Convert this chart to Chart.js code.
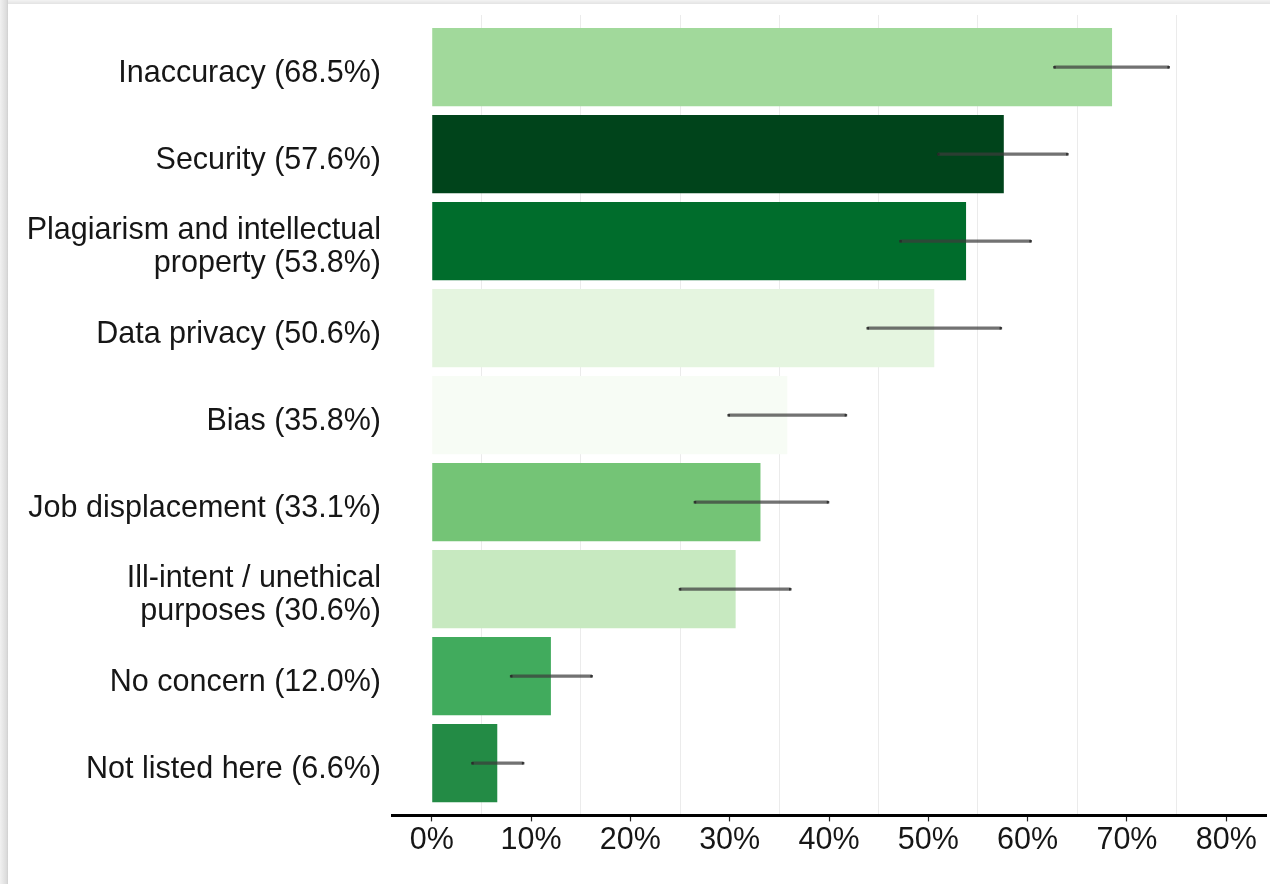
<!DOCTYPE html>
<html>
<head>
<meta charset="utf-8">
<script src="https://cdn.jsdelivr.net/npm/chart.js@4.4.1/dist/chart.umd.min.js"></script>
<style>
  html, body { margin: 0; padding: 0; background: #ffffff; overflow: hidden; }
  #wrap { position: relative; width: 1270px; height: 884px; }
  #wrap canvas { position: absolute; left: 0; top: 0; }
  #edgeL { position: absolute; left: 0; top: 0; width: 8px; height: 884px;
           background: linear-gradient(to right, #f1f1f1, #dcdcdc 80%, #cfcfcf); }
  #edgeT { position: absolute; left: 0; top: 0; width: 1270px; height: 4px;
           background: linear-gradient(to bottom, #f3f3f3, #e3e3e3); }
</style>
</head>
<body>
<div id="wrap">
  <canvas id="chart" width="1270" height="884"></canvas>
  <div id="edgeT"></div>
  <div id="edgeL"></div>
</div>
<script>
// ---- data ----
const categories = [
  'Inaccuracy (68.5%)',
  'Security (57.6%)',
  ['Plagiarism and intellectual', 'property (53.8%)'],
  'Data privacy (50.6%)',
  'Bias (35.8%)',
  'Job displacement (33.1%)',
  ['Ill-intent / unethical', 'purposes (30.6%)'],
  'No concern (12.0%)',
  'Not listed here (6.6%)'
];
const values   = [68.5, 57.6, 53.8, 50.6, 35.8, 33.1, 30.6, 12.0, 6.6];
const errLow   = [62.7, 51.0, 47.2, 43.9, 29.9, 26.5, 25.0, 8.0, 4.1];
const errHigh  = [74.2, 64.0, 60.3, 57.3, 41.7, 39.9, 36.1, 16.1, 9.2];
const barColors = ['#a1d99b', '#00441b', '#006d2c', '#e5f5e0', '#f7fcf5',
                   '#74c476', '#c7e9c0', '#41ab5d', '#238b45'];
const xTickValues = [0, 10, 20, 30, 40, 50, 60, 70, 80];
const xGridValues = [5, 15, 25, 35, 45, 55, 65, 75];

// ---- build datasets ----
const positions = categories.map((c, i) => i + 1);
const barData = values.map((v, i) => ({ x: v, y: positions[i] }));
const errData = values.map((v, i) => ({ x: [errLow[i], errHigh[i]], y: positions[i] }));
const capData = [];
values.forEach((v, i) => {
  capData.push({ x: errLow[i], y: positions[i] });
  capData.push({ x: errHigh[i], y: positions[i] });
});

const FONT = "'Liberation Sans', Arial, Helvetica, sans-serif";
const TEXT = '#161616';

new Chart(document.getElementById('chart'), {
  type: 'bar',
  data: {
    datasets: [
      {
        data: barData,
        backgroundColor: barColors,
        borderWidth: 0,
        grouped: false,
        categoryPercentage: 1,
        barPercentage: 0.9,
        order: 3
      },
      {
        data: errData,
        backgroundColor: 'rgba(60,60,60,0.72)',
        borderWidth: 0,
        grouped: false,
        barThickness: 2.6,
        order: 2
      },
      {
        type: 'scatter',
        data: capData,
        pointStyle: 'rect',
        pointRadius: 1.8,
        pointBackgroundColor: 'rgba(40,40,40,0.85)',
        pointBorderWidth: 0,
        showLine: false,
        order: 1
      }
    ]
  },
  options: {
    indexAxis: 'y',
    responsive: false,
    animation: false,
    devicePixelRatio: 1,
    layout: { padding: { top: 15, right: 0, bottom: 24, left: 0 } },
    plugins: { legend: { display: false }, tooltip: { enabled: false } },
    scales: {
      y: {
        type: 'linear',
        reverse: true,
        offset: false,
        min: 0.4,
        max: 9.6,
        afterBuildTicks: (s) => { s.ticks = positions.map(p => ({ value: p })); },
        afterFit: (s) => { s.width = 392; s.paddingTop = 0; s.paddingBottom = 0; },
        ticks: {
          autoSkip: false,
          padding: 11,
          labelOffset: 6,
          color: TEXT,
          font: { family: FONT, size: 30.5, lineHeight: 1.08 },
          callback: (v, i) => categories[i]
        },
        grid: { display: false, drawTicks: false, offset: false },
        border: { display: false }
      },
      x: {
        type: 'linear',
        position: 'bottom',
        min: -4,
        max: 84,
        afterBuildTicks: (s) => { s.ticks = xTickValues.map(v => ({ value: v })); },
        ticks: {
          autoSkip: false,
          maxRotation: 0,
          padding: 1,
          color: TEXT,
          font: { family: FONT, size: 30.5, lineHeight: 1.2 },
          callback: (v) => v + '%'
        },
        grid: { drawOnChartArea: false, drawTicks: true, tickLength: 6, tickColor: '#222', tickWidth: 1.2 },
        border: { display: true, color: '#000', width: 3 }
      },
      xg: {
        type: 'linear',
        axis: 'x',
        position: 'bottom',
        min: -4,
        max: 84,
        afterBuildTicks: (s) => { s.ticks = xGridValues.map(v => ({ value: v })); },
        ticks: { display: false },
        grid: { color: '#ebebeb', lineWidth: 1, drawTicks: false },
        border: { display: false }
      }
    }
  }
});
</script>
</body>
</html>
